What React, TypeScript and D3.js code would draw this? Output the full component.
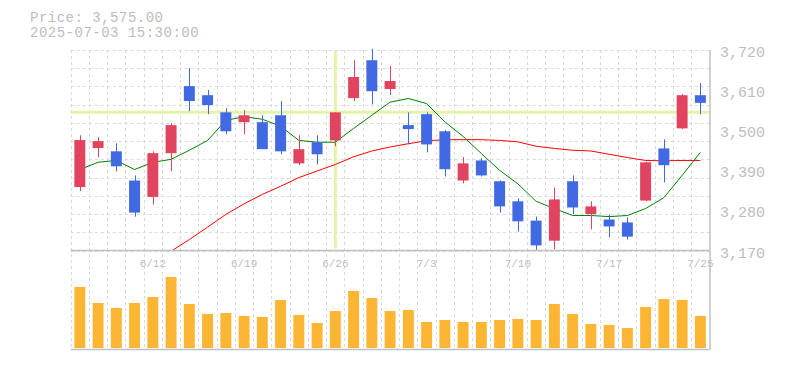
import React from 'react';
import * as d3 from 'd3';

const dates = [
    '6/6', '6/9', '6/10', '6/11', '6/12', '6/13', '6/16', '6/17', '6/18', '6/19',
    '6/20', '6/23', '6/24', '6/25', '6/26', '6/27', '6/30', '7/1', '7/2', '7/3',
    '7/4', '7/7', '7/8', '7/9', '7/10', '7/11', '7/14', '7/15', '7/16', '7/17',
    '7/18', '7/22', '7/23', '7/24', '7/25'
];
const opens = [
    3344, 3451, 3442, 3362, 3317, 3437, 3621, 3596, 3549, 3522,
    3522, 3541, 3409, 3467, 3472, 3588, 3692, 3613, 3514, 3544,
    3497, 3362, 3417, 3360, 3305, 3252, 3197, 3360, 3270, 3255,
    3247, 3307, 3450, 3505, 3596
];
const highs = [
    3486, 3481, 3464, 3376, 3442, 3519, 3670, 3610, 3560, 3555,
    3541, 3580, 3486, 3486, 3550, 3692, 3723, 3676, 3549, 3549,
    3500, 3426, 3423, 3362, 3313, 3263, 3343, 3376, 3305, 3269,
    3261, 3414, 3475, 3599, 3629
];
const lows = [
    3333, 3426, 3387, 3263, 3296, 3387, 3552, 3544, 3489, 3489,
    3448, 3434, 3404, 3406, 3456, 3580, 3571, 3596, 3461, 3439,
    3373, 3354, 3373, 3274, 3222, 3170, 3173, 3269, 3228, 3206,
    3200, 3305, 3357, 3503, 3544
];
const closes = [
    3473, 3470, 3401, 3274, 3437, 3514, 3580, 3569, 3497, 3541,
    3448, 3442, 3448, 3434, 3549, 3646, 3607, 3635, 3503, 3461,
    3393, 3409, 3376, 3291, 3250, 3184, 3310, 3288, 3291, 3236,
    3208, 3412, 3404, 3596, 3575
];
// thousand shares
const volumes = [
    630, 464, 412, 464, 526, 732, 454, 351, 361, 330,
    320, 495, 340, 258, 381, 588, 515, 381, 392, 268,
    289, 268, 268, 289, 299, 289, 454, 351, 247, 237,
    206, 423, 505, 495, 330
];
const ma5 = [
    3392, 3412, 3417, 3392, 3412, 3420, 3445, 3472, 3527, 3537,
    3530, 3511, 3472, 3467, 3467, 3505, 3541, 3577, 3587, 3573,
    3523, 3483, 3436, 3390, 3353, 3305, 3285, 3266, 3266, 3263,
    3266, 3285, 3315, 3376, 3439
];
// 25-day line, only from 6/13 on (earlier values are below the panel)
const ma25 = [
    null, null, null, null, null, 3168, 3200, 3234, 3269, 3298,
    3324, 3346, 3370, 3388, 3406, 3427, 3443, 3454, 3463, 3471,
    3474, 3474, 3474, 3472, 3468, 3456, 3450, 3445, 3443, 3434,
    3425, 3417, 3416, 3417, 3417
];
const priceTicks = [3170, 3280, 3390, 3500, 3610, 3720];
const labeledDates = ['6/12', '6/19', '6/26', '7/3', '7/10', '7/17', '7/25'];
const crosshairIndex = 14;
const headerPrice = 'Price: 3,575.00';
const headerTime = '2025-07-03 15:30:00';

const width = 785;
const height = 370;
const left = 70.7;
const right = 709.5;
const priceTop = 50;
const priceBottom = 250.5;
const volBottom = 349.5;

const font = '"Liberation Mono", "DejaVu Sans Mono", monospace';
const upColor = '#e0445f';
const downColor = '#4169e1';
const gridColor = '#d9d9d9';
const axisColor = '#c0c0c0';
const textColor = '#bdbdbd';

const App: React.FC = () => {
    const x = d3.scaleBand<string>().domain(dates).range([left, right]).padding(0);
    const step = x.step();
    const bodyW = step * 0.6;
    const cx = (i: number) => (x(dates[i]) as number) + step / 2;

    const y = d3.scaleLinear().domain([3170, 3720]).range([priceBottom, priceTop]);
    const yVol = d3.scaleLinear().domain([0, 1000]).range([volBottom - 1.5, 251]);

    const gridPrices = d3.range(3170, 3721, 50);

    const line5 = d3.line<number>()
        .x((_, i) => cx(i))
        .y(d => y(d));
    const line25 = d3.line<number | null>()
        .defined(d => d !== null)
        .x((_, i) => cx(i))
        .y(d => y(d as number));

    const chX = cx(crosshairIndex);
    const chY = y(closes[crosshairIndex]);

    return (
        <svg width={width} height={height} style={{ position: 'absolute', left: 0, top: 0 }}>
            <defs>
                <clipPath id="priceClip">
                    <rect x={left} y={priceTop} width={right - left} height={priceBottom - priceTop} />
                </clipPath>
            </defs>

            <text x={30} y={22} fontFamily={font} fontSize={14} letterSpacing={0.5} fill={textColor}>{headerPrice}</text>
            <text x={30} y={37} fontFamily={font} fontSize={14} letterSpacing={0.5} fill={textColor}>{headerTime}</text>

            {/* grid */}
            <g stroke={gridColor} strokeDasharray="3,3" strokeWidth={1}>
                {gridPrices.map(p => (
                    <line key={p} x1={left} x2={right} y1={Math.round(y(p)) + 0.5} y2={Math.round(y(p)) + 0.5} />
                ))}
                {dates.map(d => {
                    const gx = Math.round(x(d) as number) + 0.5;
                    return <line key={d} x1={gx} x2={gx} y1={priceTop} y2={volBottom} />;
                })}
            </g>

            {/* crosshair */}
            <g stroke="#e3f4a8" strokeWidth={3}>
                <line x1={left} x2={right} y1={chY} y2={chY} />
                <line x1={chX} x2={chX} y1={priceTop + 1} y2={priceBottom - 2} />
            </g>

            {/* moving averages */}
            <g clipPath="url(#priceClip)" fill="none" strokeWidth={1}>
                <path d={line25(ma25) || ''} stroke="#ff0000" />
                <path d={line5(ma5) || ''} stroke="#008000" />
            </g>

            {/* candles */}
            <g>
                {dates.map((d, i) => {
                    const up = closes[i] >= opens[i];
                    const c = up ? upColor : downColor;
                    const top = y(Math.max(opens[i], closes[i]));
                    const bot = y(Math.min(opens[i], closes[i]));
                    const xc = Math.round(cx(i)) + 0.5;
                    return (
                        <g key={d}>
                            <line x1={xc} x2={xc} y1={y(highs[i])} y2={y(lows[i])} stroke={c} strokeWidth={1} />
                            <rect x={cx(i) - bodyW / 2} y={top} width={bodyW} height={Math.max(1, bot - top)} fill={c} />
                        </g>
                    );
                })}
            </g>

            {/* volume */}
            <g fill="#fdb634">
                {dates.map((d, i) => (
                    <rect key={d} x={cx(i) - bodyW / 2} y={yVol(volumes[i])} width={bodyW}
                        height={yVol(0) - yVol(volumes[i])} />
                ))}
            </g>

            {/* axes */}
            <g stroke={axisColor} strokeWidth={1.5}>
                <line x1={left} x2={right} y1={priceBottom} y2={priceBottom} />
                <line x1={left} x2={right} y1={volBottom} y2={volBottom} />
                <line x1={right + 0.5} x2={right + 0.5} y1={priceTop} y2={volBottom} />
            </g>

            {priceTicks.map(p => (
                <text key={p} x={720} y={y(p) + 7} fontFamily={font} fontSize={15} fill={textColor}>
                    {d3.format(',')(p)}
                </text>
            ))}

            {labeledDates.map(d => (
                <text key={d} x={cx(dates.indexOf(d))} y={266.5} textAnchor="middle"
                    fontFamily={font} fontSize={11} fill={textColor}>{d}</text>
            ))}
        </svg>
    );
};

export default App;
